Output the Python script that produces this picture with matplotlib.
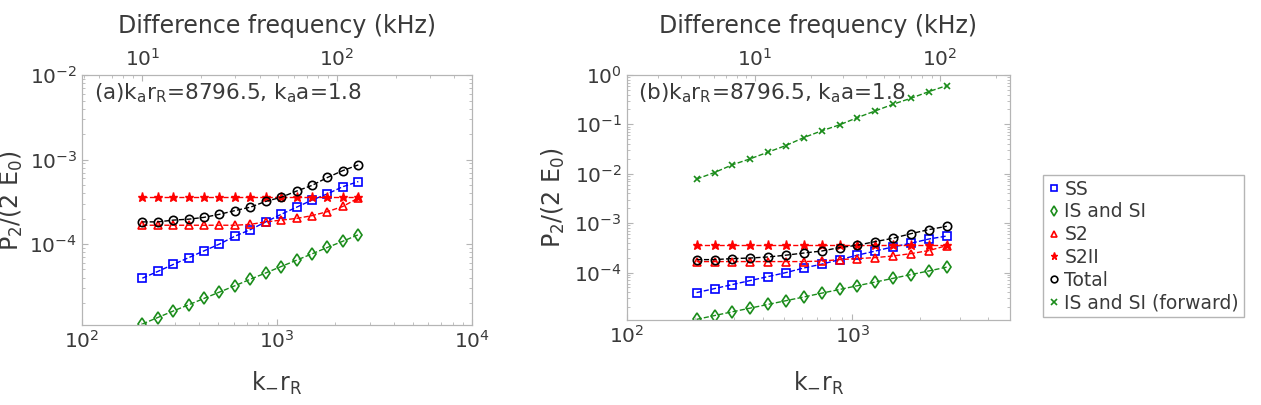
import numpy as np
import matplotlib
matplotlib.use("Agg")
import matplotlib.pyplot as plt

plt.rcParams['font.family'] = ['DejaVu Sans']
plt.rcParams['mathtext.default'] = 'regular'
plt.rcParams['axes.unicode_minus'] = False

# ================= DATA =================
# k_- r_R values (same in both panels)
kr = [204, 245, 294, 353, 423, 508, 610, 731, 878, 1053, 1264, 1517, 1820, 2184, 2621]

ss = [3.94e-5, 4.74e-5, 5.73e-5, 6.90e-5, 8.30e-5, 1.00e-4, 1.24e-4, 1.48e-4,
      1.83e-4, 2.25e-4, 2.73e-4, 3.32e-4, 3.93e-4, 4.78e-4, 5.49e-4]
is_si = [1.13e-5, 1.35e-5, 1.61e-5, 1.91e-5, 2.27e-5, 2.70e-5, 3.21e-5, 3.83e-5,
         4.55e-5, 5.42e-5, 6.44e-5, 7.66e-5, 9.12e-5, 1.08e-4, 1.29e-4]
s2 = [1.67e-4, 1.67e-4, 1.67e-4, 1.67e-4, 1.67e-4, 1.67e-4, 1.67e-4, 1.71e-4,
      1.83e-4, 1.92e-4, 2.01e-4, 2.17e-4, 2.42e-4, 2.79e-4, 3.51e-4]
s2ii = [3.6e-4, 3.6e-4, 3.6e-4, 3.6e-4, 3.6e-4, 3.6e-4, 3.6e-4, 3.6e-4,
        3.6e-4, 3.6e-4, 3.6e-4, 3.6e-4, 3.6e-4, 3.6e-4, 3.6e-4]
total = [1.83e-4, 1.83e-4, 1.92e-4, 1.97e-4, 2.07e-4, 2.25e-4, 2.49e-4, 2.73e-4,
         3.20e-4, 3.58e-4, 4.24e-4, 4.95e-4, 6.14e-4, 7.41e-4, 8.65e-4]
is_si_fwd = [7.8e-3, 1.06e-2, 1.52e-2, 2.01e-2, 2.74e-2, 3.73e-2, 5.41e-2, 7.39e-2,
             9.77e-2, 0.137, 0.187, 0.256, 0.338, 0.460, 0.608]

labels = ['SS', 'IS and SI', 'S2', 'S2II', 'Total', 'IS and SI (forward)']

# ================= STYLE =================
TXT = '#3a3a3a'
BOX = '#b5b5b5'
GREEN = (0.1, 0.55, 0.1)

fig = plt.figure(figsize=(12.61, 4.05), dpi=100)

def style_axes(ax):
    for s in ax.spines.values():
        s.set_color(BOX)
    ax.tick_params(which='both', direction='in', colors=BOX, labelcolor=TXT,
                   labelsize=14.5)
    ax.tick_params(which='major', length=4)
    ax.tick_params(which='minor', length=2)

def draw_panel(ax, with_fwd):
    kw = dict(ls='--', lw=1.0, ms=6, mew=1.2, mfc='none')
    h = []
    h += ax.plot(kr, ss, marker='s', color='b', **kw)
    h += ax.plot(kr, is_si, marker='d', color=GREEN, **kw)
    h += ax.plot(kr, s2, marker='^', color='r', **kw)
    h += ax.plot(kr, s2ii, marker='*', color='r', ls='--', lw=1.0, ms=6.5)
    h += ax.plot(kr, total, marker='o', color='k', **kw)
    if with_fwd:
        h += ax.plot(kr, is_si_fwd, marker='x', color=GREEN, ls='--', lw=1.0,
                     ms=5, mew=1.2)
    return h

# ================= PANEL (a) =================
ax1 = fig.add_axes([0.065, 0.1975, 0.309, 0.617])
draw_panel(ax1, False)
ax1.set_xscale('log')
ax1.set_yscale('log')
ax1.set_xlim(100, 10000)
ax1.set_ylim(1.1e-5, 1e-2)
ax1.set_yticks([1e-4, 1e-3, 1e-2])
style_axes(ax1)
ax1.tick_params(which='both', right=True)
ax1.set_xlabel('$k_{-}r_R$', fontsize=17, color=TXT)
ax1.xaxis.set_label_coords(0.5, -0.18)
ax1.set_ylabel('$P_2/(2\\ E_0)$', fontsize=17, color=TXT)
ax1.yaxis.set_label_coords(-0.146, 0.5)
ax1.text(0.03, 0.975, '(a)$k_ar_R$=8796.5, $k_aa$=1.8', transform=ax1.transAxes,
         fontsize=15.5, color=TXT, va='top', ha='left')

top1 = ax1.twiny()
top1.set_xscale('log')
top1.set_xlim(4.9, 490)
style_axes(top1)
top1.set_xlabel('Difference frequency (kHz)', fontsize=17, color=TXT)
top1.xaxis.set_label_coords(0.5, 1.168)

# ================= PANEL (b) =================
ax2 = fig.add_axes([0.497, 0.21, 0.304, 0.605])
handles = draw_panel(ax2, True)
ax2.set_xscale('log')
ax2.set_yscale('log')
ax2.set_xlim(100, 5000)
ax2.set_ylim(1.1e-5, 1)
ax2.set_yticks([1e-4, 1e-3, 1e-2, 1e-1, 1])
style_axes(ax2)
ax2.tick_params(which='both', right=True)
ax2.set_xlabel('$k_{-}r_R$', fontsize=17, color=TXT)
ax2.xaxis.set_label_coords(0.5, -0.204)
ax2.set_ylabel('$P_2/(2\\ E_0)$', fontsize=17, color=TXT)
ax2.yaxis.set_label_coords(-0.157, 0.5)
ax2.text(0.03, 0.975, '(b)$k_ar_R$=8796.5, $k_aa$=1.8', transform=ax2.transAxes,
         fontsize=15.5, color=TXT, va='top', ha='left')

top2 = ax2.twiny()
top2.set_xscale('log')
top2.set_xlim(2.03, 239)
style_axes(top2)
top2.set_xlabel('Difference frequency (kHz)', fontsize=17, color=TXT)
top2.xaxis.set_label_coords(0.5, 1.171)

# ================= LEGEND =================
leg = fig.legend(handles, labels, loc='upper left', bbox_to_anchor=(0.827, 0.568),
                 fontsize=13.5, fancybox=False, edgecolor=BOX, framealpha=1,
                 handlelength=0.7, handletextpad=0.2, labelspacing=0.2,
                 borderpad=0.25, borderaxespad=0, markerscale=0.8)
for t in leg.get_texts():
    t.set_color(TXT)
for l in leg.get_lines():
    l.set_linestyle('none')

fig.savefig('out.png', dpi=100)
